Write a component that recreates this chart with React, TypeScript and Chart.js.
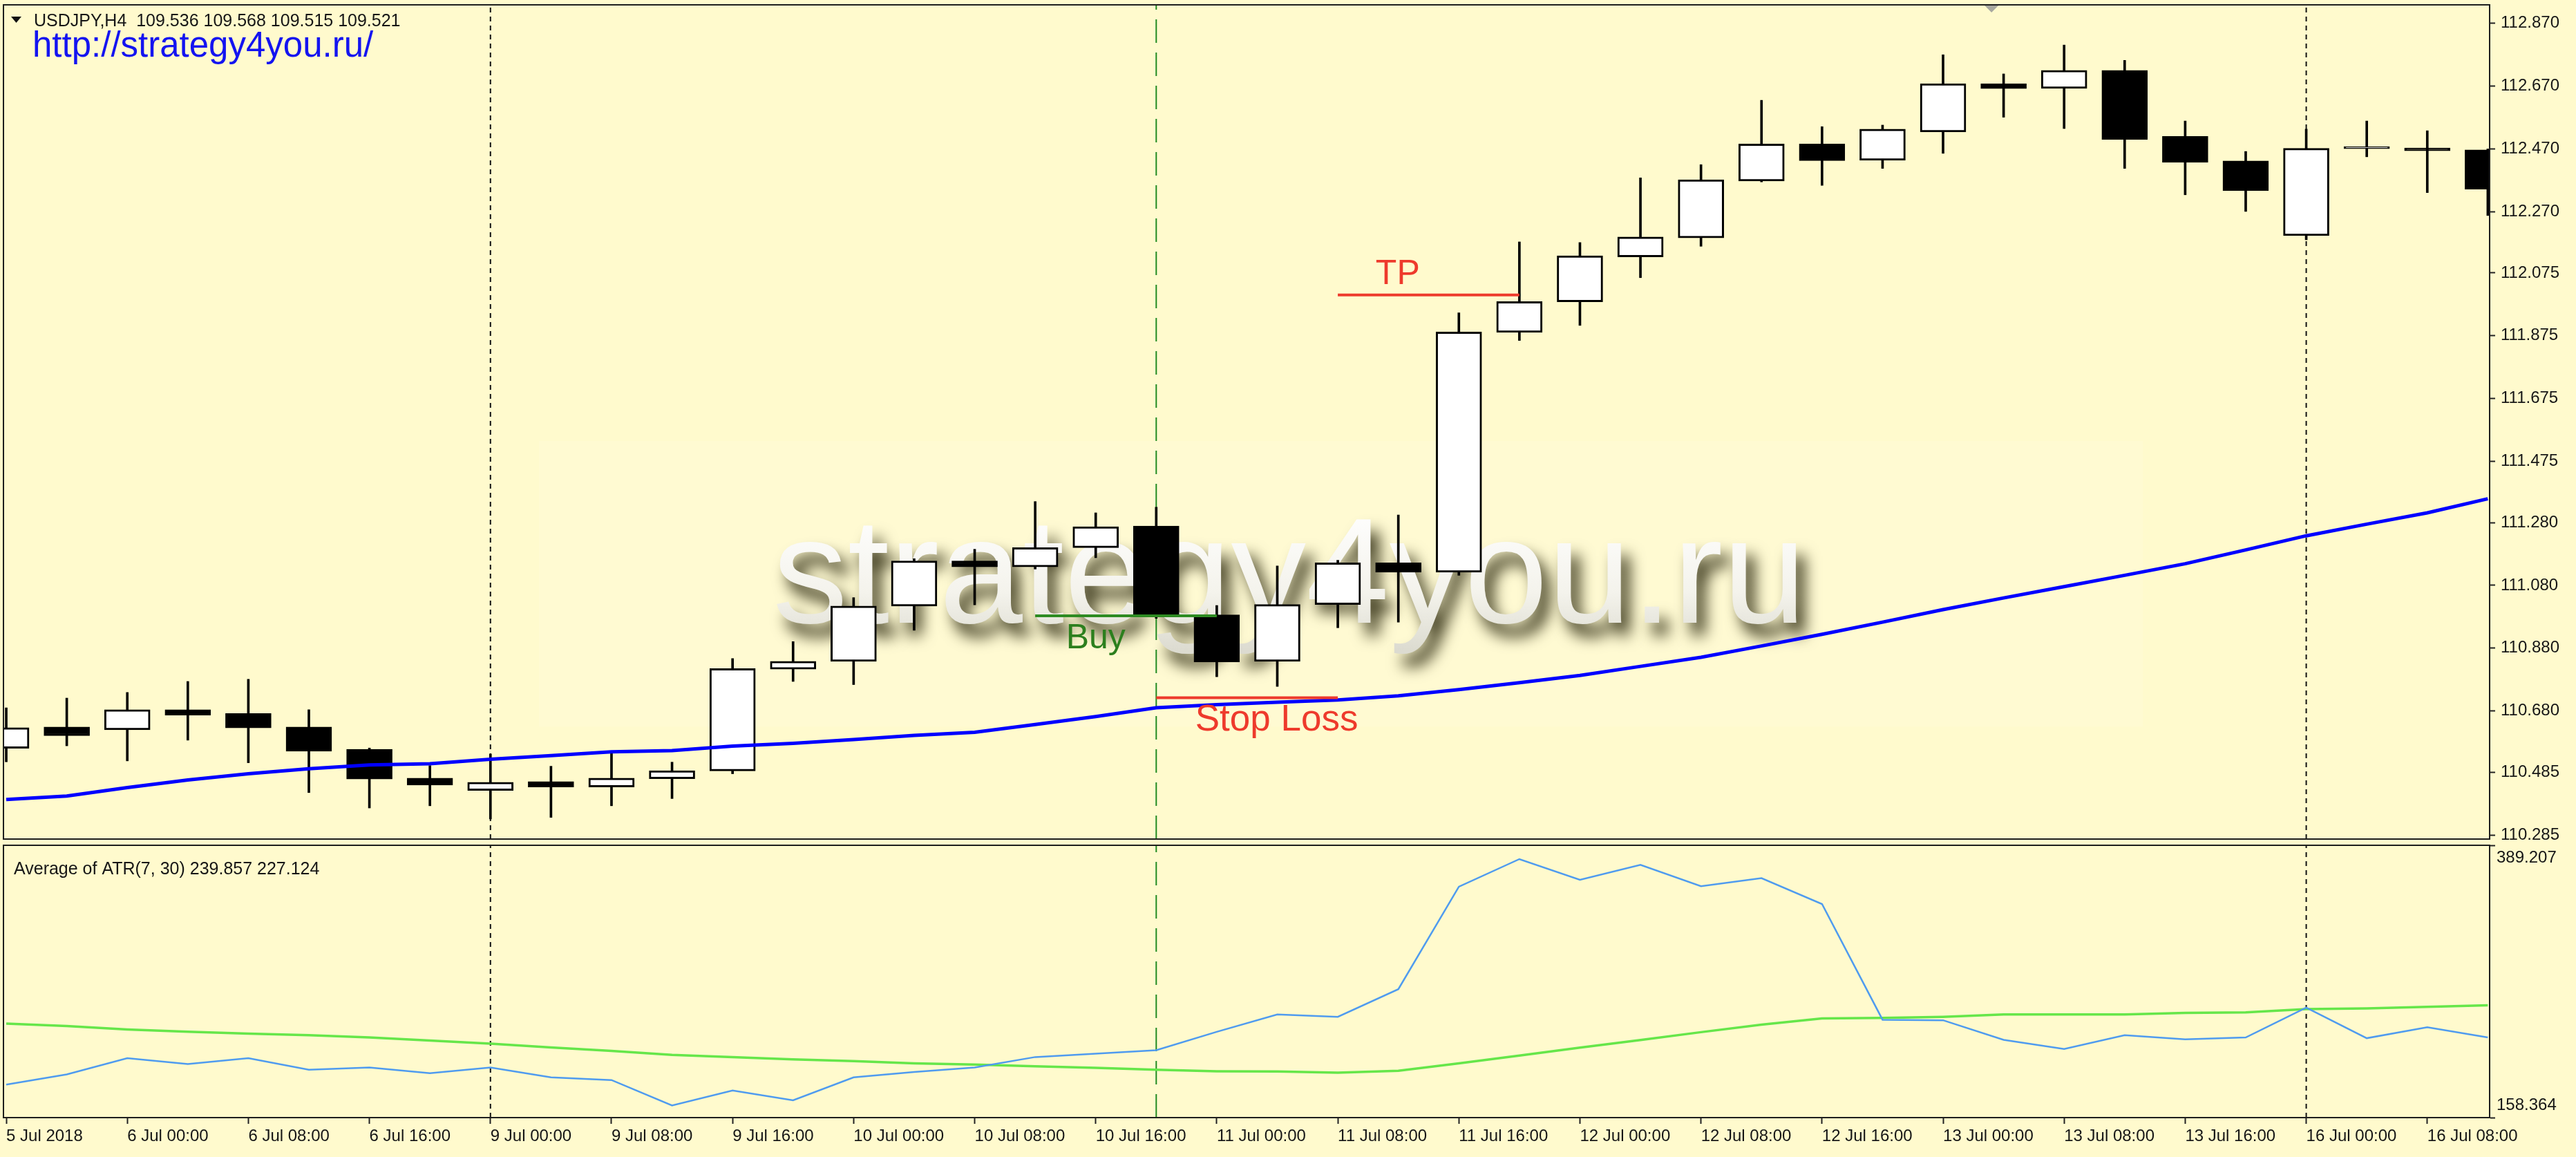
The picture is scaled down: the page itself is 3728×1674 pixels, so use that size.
import React, { useEffect, useRef } from 'react';
import { Chart, registerables } from 'chart.js';

Chart.register(...registerables);

// ---------------- DATA ----------------
const opens = [110.561, 110.629, 110.620, 110.684, 110.672, 110.629, 110.558, 110.466, 110.427, 110.455, 110.438, 110.464, 110.489, 110.813, 110.838, 111.014, 111.158, 111.139, 111.200, 111.269, 110.986, 110.838, 111.019, 111.152, 111.122, 111.886, 111.983, 112.126, 112.187, 112.368, 112.486, 112.434, 112.524, 112.678, 112.663, 112.720, 112.510, 112.432, 112.194, 112.471, 112.473, 112.467];
const highs = [110.690, 110.721, 110.739, 110.774, 110.781, 110.684, 110.562, 110.506, 110.543, 110.504, 110.549, 110.517, 110.847, 110.901, 111.041, 111.165, 111.195, 111.347, 111.311, 111.329, 111.016, 111.142, 111.160, 111.304, 111.948, 112.174, 112.172, 112.378, 112.420, 112.625, 112.541, 112.546, 112.770, 112.709, 112.801, 112.752, 112.559, 112.462, 112.533, 112.559, 112.528, 112.470];
const lows = [110.518, 110.569, 110.521, 110.587, 110.515, 110.420, 110.371, 110.378, 110.336, 110.341, 110.378, 110.401, 110.480, 110.774, 110.764, 110.937, 111.018, 111.132, 111.168, 110.975, 110.789, 110.758, 110.945, 110.963, 111.112, 111.860, 111.908, 112.060, 112.160, 112.365, 112.354, 112.408, 112.456, 112.571, 112.535, 112.408, 112.324, 112.271, 112.181, 112.445, 112.331, 112.258];
const closes = [110.627, 110.601, 110.684, 110.667, 110.626, 110.552, 110.463, 110.444, 110.453, 110.438, 110.466, 110.490, 110.815, 110.838, 111.014, 111.158, 111.139, 111.200, 111.267, 110.986, 110.836, 111.019, 111.152, 111.122, 111.887, 111.984, 112.130, 112.190, 112.372, 112.486, 112.433, 112.533, 112.678, 112.662, 112.720, 112.500, 112.427, 112.337, 112.472, 112.471, 112.464, 112.342];
const maValues = [110.398, 110.409, 110.436, 110.460, 110.480, 110.496, 110.508, 110.512, 110.526, 110.538, 110.550, 110.554, 110.568, 110.577, 110.589, 110.602, 110.612, 110.637, 110.662, 110.690, 110.700, 110.708, 110.715, 110.728, 110.748, 110.770, 110.793, 110.822, 110.851, 110.887, 110.924, 110.963, 111.003, 111.040, 111.076, 111.112, 111.149, 111.193, 111.238, 111.275, 111.311, 111.356];
const atrValues = [186.3, 195.0, 208.7, 203.8, 208.7, 198.9, 200.9, 196.0, 200.9, 192.5, 190.2, 168.7, 181.4, 173.0, 192.5, 197.0, 200.9, 209.7, 212.6, 215.5, 231.1, 245.8, 243.8, 267.2, 354.1, 377.5, 359.9, 372.6, 354.5, 361.3, 339.4, 241.3, 240.9, 224.3, 216.5, 228.2, 224.7, 226.3, 251.6, 225.7, 235.0, 226.3];
const atrAvgValues = [238.0, 236.0, 233.1, 231.1, 229.6, 228.2, 226.3, 223.7, 221.0, 217.9, 214.9, 211.6, 209.7, 207.7, 206.2, 204.4, 203.4, 201.9, 200.5, 198.9, 197.6, 197.4, 196.4, 198.0, 204.4, 211.0, 217.7, 224.1, 230.8, 237.2, 242.5, 242.9, 243.8, 245.8, 245.8, 245.8, 247.1, 247.5, 250.3, 251.0, 252.2, 253.6];

const priceTicks = [110.285, 110.485, 110.680, 110.880, 111.080, 111.280, 111.475, 111.675, 111.875, 112.075, 112.270, 112.470, 112.670, 112.870];
const atrTicks = [158.364, 389.207];
const timeTickBars = [0, 2, 4, 6, 8, 10, 12, 14, 16, 18, 20, 22, 24, 26, 28, 30, 32, 34, 36, 38, 40];
const timeTickLabels = ['5 Jul 2018', '6 Jul 00:00', '6 Jul 08:00', '6 Jul 16:00', '9 Jul 00:00', '9 Jul 08:00', '9 Jul 16:00', '10 Jul 00:00', '10 Jul 08:00', '10 Jul 16:00', '11 Jul 00:00', '11 Jul 08:00', '11 Jul 16:00', '12 Jul 00:00', '12 Jul 08:00', '12 Jul 16:00', '13 Jul 00:00', '13 Jul 08:00', '13 Jul 16:00', '16 Jul 00:00', '16 Jul 08:00'];

const separatorBars = [8, 38];
const entryBar = 19;
const tpLine = [{ x: 22, y: 112.005 }, { x: 25, y: 112.005 }];
const slLine = [{ x: 19, y: 110.722 }, { x: 22, y: 110.722 }];
const buyLine = [{ x: 17, y: 110.983 }, { x: 20, y: 110.983 }];

const headerText = 'USDJPY,H4  109.536 109.568 109.515 109.521';
const urlText = 'http://strategy4you.ru/';
const watermarkText = 'strategy4you.ru';
const atrTitle = 'Average of ATR(7, 30) 239.857 227.124';

// ---------------- LAYOUT / STYLE ----------------
const W = 3728;
const H = 1674;
const TOP_H = 1216;
const BOT_TOP = 1216;
const BOT_H = H - BOT_TOP;
const BG = '#FFFACD';
const FONT = '"Liberation Sans", Arial, sans-serif';
const TXT = '#161616';
const X_MIN = -0.046;
const X_MAX = 41.03;
const P_MIN = 110.272;
const P_MAX = 112.929;
const A_MIN = 158.364;
const A_MAX = 389.207;
const RED = '#EE3A2C';
const GREEN_TXT = '#2C7F1E';

Chart.defaults.font.family = FONT;
Chart.defaults.color = TXT;

const idx = opens.map((_, i) => i);

const framePlugin = {
  id: 'frame',
  beforeDraw(chart: any) {
    const { ctx, width, height } = chart;
    ctx.save();
    ctx.fillStyle = BG;
    ctx.fillRect(0, 0, width, height);
    ctx.restore();
  },
  afterDraw(chart: any) {
    const a = chart.chartArea;
    const ctx = chart.ctx;
    ctx.save();
    ctx.strokeStyle = '#1e1e1e';
    ctx.lineWidth = 2;
    ctx.strokeRect(a.left, a.top, a.right - a.left, a.bottom - a.top);
    ctx.restore();
  },
};

const topOverlay = {
  id: 'topOverlay',
  beforeDatasetsDraw(chart: any) {
    const { ctx } = chart;
    const x = chart.scales.x;
    const y = chart.scales.y;
    const px = x.getPixelForValue(21.2);
    const py = y.getPixelForValue(110.961);
    ctx.save();
    // faint backing panel of the watermark
    ctx.fillStyle = 'rgba(255,255,255,0.10)';
    ctx.fillRect(x.getPixelForValue(8.8), y.getPixelForValue(111.54), x.getPixelForValue(35.3) - x.getPixelForValue(8.8), y.getPixelForValue(110.63) - y.getPixelForValue(111.54));
    ctx.font = `217px ${FONT}`;
    ctx.textAlign = 'center';
    ctx.textBaseline = 'alphabetic';
    ctx.shadowColor = 'rgba(45,42,15,0.95)';
    ctx.shadowBlur = 22;
    ctx.shadowOffsetX = 12;
    ctx.shadowOffsetY = 18;
    const g = ctx.createLinearGradient(0, py - 170, 0, py + 40);
    g.addColorStop(0, '#ffffff');
    g.addColorStop(0.6, '#f4f3ec');
    g.addColorStop(1, '#dcdbd0');
    ctx.fillStyle = g;
    ctx.fillText(watermarkText, px, py);
    ctx.restore();
  },
  afterDatasetsDraw(chart: any) {
    const { ctx } = chart;
    const x = chart.scales.x;
    const y = chart.scales.y;
    ctx.save();
    ctx.textAlign = 'center';
    ctx.textBaseline = 'alphabetic';
    ctx.fillStyle = RED;
    ctx.font = `50px ${FONT}`;
    ctx.fillText('TP', x.getPixelForValue(22.99), y.getPixelForValue(112.039));
    ctx.font = `53px ${FONT}`;
    ctx.fillText('Stop Loss', x.getPixelForValue(20.99), y.getPixelForValue(110.617));
    ctx.fillStyle = GREEN_TXT;
    ctx.font = `50px ${FONT}`;
    ctx.fillText('Buy', x.getPixelForValue(18.0), y.getPixelForValue(110.879));
    ctx.restore();
  },
  afterDraw(chart: any) {
    const { ctx } = chart;
    const a = chart.chartArea;
    ctx.save();
    ctx.fillStyle = '#111';
    ctx.beginPath();
    ctx.moveTo(a.left + 11, 24);
    ctx.lineTo(a.left + 26, 24);
    ctx.lineTo(a.left + 18.5, 33);
    ctx.closePath();
    ctx.fill();
    ctx.font = `25px ${FONT}`;
    ctx.textAlign = 'left';
    ctx.textBaseline = 'alphabetic';
    ctx.fillStyle = TXT;
    ctx.fillText(headerText, a.left + 44, 38);
    ctx.fillStyle = '#1414F0';
    ctx.font = `51px ${FONT}`;
    ctx.fillText(urlText, a.left + 42, 82);
    const mx = chart.scales.x.getPixelForValue(32.8);
    ctx.fillStyle = '#a8a8a0';
    ctx.beginPath();
    ctx.moveTo(mx - 10, a.top + 1);
    ctx.lineTo(mx + 10, a.top + 1);
    ctx.lineTo(mx, a.top + 11);
    ctx.closePath();
    ctx.fill();
    ctx.restore();
  },
};

const bottomOverlay = {
  id: 'bottomOverlay',
  afterDraw(chart: any) {
    const { ctx } = chart;
    const a = chart.chartArea;
    ctx.save();
    ctx.font = `25px ${FONT}`;
    ctx.fillStyle = TXT;
    ctx.textAlign = 'left';
    ctx.textBaseline = 'alphabetic';
    ctx.fillText(atrTitle, a.left + 15, a.top + 42);
    ctx.restore();
  },
};

function vline(bar: number, lo: number, hi: number, color: string, dash: number[], order: number) {
  return {
    type: 'line' as const,
    data: [{ x: bar, y: lo }, { x: bar, y: hi }],
    borderColor: color,
    borderWidth: 2,
    borderDash: dash,
    pointRadius: 0,
    order,
    clip: 0,
  };
}

function hline(points: { x: number; y: number }[], color: string) {
  return {
    type: 'line' as const,
    data: points,
    borderColor: color,
    borderWidth: 4,
    pointRadius: 0,
    order: 0,
    clip: 0,
  };
}

export default function App() {
  const topRef = useRef<HTMLCanvasElement | null>(null);
  const botRef = useRef<HTMLCanvasElement | null>(null);

  useEffect(() => {
    const bodyData = idx.map((i) => ({ x: i, y: [opens[i], closes[i]] }));
    const wickData = idx.map((i) => ({ x: i, y: [lows[i], highs[i]] }));
    const bodyFill = idx.map((i) => (closes[i] >= opens[i] ? '#FFFFFF' : '#000000'));

    const top = new Chart(topRef.current as HTMLCanvasElement, {
      type: 'bar',
      data: {
        datasets: [
          ...separatorBars.map((b) => vline(b, P_MIN, P_MAX, '#111111', [7, 6], 5)),
          vline(entryBar, P_MIN, P_MAX, '#228B22', [34, 14], 5),
          {
            type: 'bar',
            data: wickData as any,
            backgroundColor: '#000000',
            borderWidth: 0,
            barThickness: 3,
            grouped: false,
            order: 4,
            clip: 0,
          } as any,
          {
            type: 'bar',
            data: bodyData as any,
            backgroundColor: bodyFill,
            borderColor: '#000000',
            borderWidth: 3,
            borderSkipped: false,
            barThickness: 66,
            minBarLength: 3,
            grouped: false,
            order: 3,
            clip: 0,
          } as any,
          {
            type: 'line',
            data: idx.map((i) => ({ x: i, y: maValues[i] })),
            borderColor: '#0000FF',
            borderWidth: 5,
            pointRadius: 0,
            tension: 0,
            order: 1,
            clip: 0,
          } as any,
          hline(tpLine, RED),
          hline(slLine, RED),
          hline(buyLine, '#2E8B22'),
        ] as any,
      },
      options: {
        responsive: false,
        animation: false,
        devicePixelRatio: 1,
        events: [],
        layout: { padding: { left: 5, top: 7, right: 0, bottom: 2 } },
        plugins: { legend: { display: false }, tooltip: { enabled: false } },
        scales: {
          x: { type: 'linear', min: X_MIN, max: X_MAX, offset: false, display: false },
          y: {
            type: 'linear',
            position: 'right',
            min: P_MIN,
            max: P_MAX,
            grid: { drawOnChartArea: false, drawTicks: true, tickLength: 8, tickWidth: 2, tickColor: '#222' },
            border: { display: true, color: '#222', width: 2 },
            ticks: {
              padding: 8,
              color: TXT,
              font: { size: 24 },
              autoSkip: false,
              callback: (v: any) => Number(v).toFixed(3),
            },
            afterBuildTicks: (s: any) => {
              s.ticks = priceTicks.map((v) => ({ value: v }));
            },
            afterFit: (s: any) => {
              s.width = 125;
              s.paddingTop = 0;
              s.paddingBottom = 0;
            },
          },
        },
      } as any,
      plugins: [framePlugin, topOverlay],
    });

    const bot = new Chart(botRef.current as HTMLCanvasElement, {
      type: 'line',
      data: {
        datasets: [
          ...separatorBars.map((b) => vline(b, A_MIN, A_MAX, '#111111', [7, 6], 5)),
          vline(entryBar, A_MIN, A_MAX, '#228B22', [34, 14], 5),
          {
            data: idx.map((i) => ({ x: i, y: atrAvgValues[i] })),
            borderColor: '#66E64A',
            borderWidth: 3.5,
            pointRadius: 0,
            tension: 0,
            order: 2,
            clip: 0,
          },
          {
            data: idx.map((i) => ({ x: i, y: atrValues[i] })),
            borderColor: '#4F9BEF',
            borderWidth: 2.5,
            pointRadius: 0,
            tension: 0,
            order: 1,
            clip: 0,
          },
        ] as any,
      },
      options: {
        responsive: false,
        animation: false,
        devicePixelRatio: 1,
        events: [],
        layout: { padding: { left: 5, top: 7, right: 0, bottom: 0 } },
        plugins: { legend: { display: false }, tooltip: { enabled: false } },
        scales: {
          x: {
            type: 'linear',
            min: X_MIN,
            max: X_MAX,
            offset: false,
            position: 'bottom',
            grid: { drawOnChartArea: false, drawTicks: true, tickLength: 9, tickWidth: 2, tickColor: '#222' },
            border: { display: true, color: '#222', width: 2 },
            ticks: {
              align: 'start',
              padding: 4,
              maxRotation: 0,
              minRotation: 0,
              autoSkip: false,
              color: TXT,
              font: { size: 24 },
              callback: (_v: any, i: number) => timeTickLabels[i],
            },
            afterBuildTicks: (s: any) => {
              s.ticks = timeTickBars.map((v) => ({ value: v }));
            },
            afterFit: (s: any) => {
              s.height = 57;
              s.paddingLeft = 0;
              s.paddingRight = 0;
            },
          },
          y: {
            type: 'linear',
            position: 'right',
            min: A_MIN,
            max: A_MAX,
            grid: { drawOnChartArea: false, drawTicks: true, tickLength: 8, tickWidth: 2, tickColor: '#222' },
            border: { display: true, color: '#222', width: 2 },
            ticks: {
              padding: 2,
              color: TXT,
              font: { size: 24, lineHeight: 1.5 },
              autoSkip: false,
              callback: (v: any, i: number) => (i === 0 ? [Number(v).toFixed(3), ''] : ['', Number(v).toFixed(3)]),
            },
            afterBuildTicks: (s: any) => {
              s.ticks = atrTicks.map((v) => ({ value: v }));
            },
            afterFit: (s: any) => {
              s.width = 125;
              s.paddingTop = 0;
              s.paddingBottom = 0;
            },
          },
        },
      } as any,
      plugins: [framePlugin, bottomOverlay],
    });

    return () => {
      top.destroy();
      bot.destroy();
    };
  }, []);

  return (
    <div style={{ position: 'fixed', left: 0, top: 0, width: W, height: H, background: BG, overflow: 'hidden' }}>
      <canvas
        ref={topRef}
        width={W}
        height={TOP_H}
        style={{ position: 'absolute', left: 0, top: 0, width: W, height: TOP_H }}
      />
      <canvas
        ref={botRef}
        width={W}
        height={BOT_H}
        style={{ position: 'absolute', left: 0, top: BOT_TOP, width: W, height: BOT_H }}
      />
    </div>
  );
}
